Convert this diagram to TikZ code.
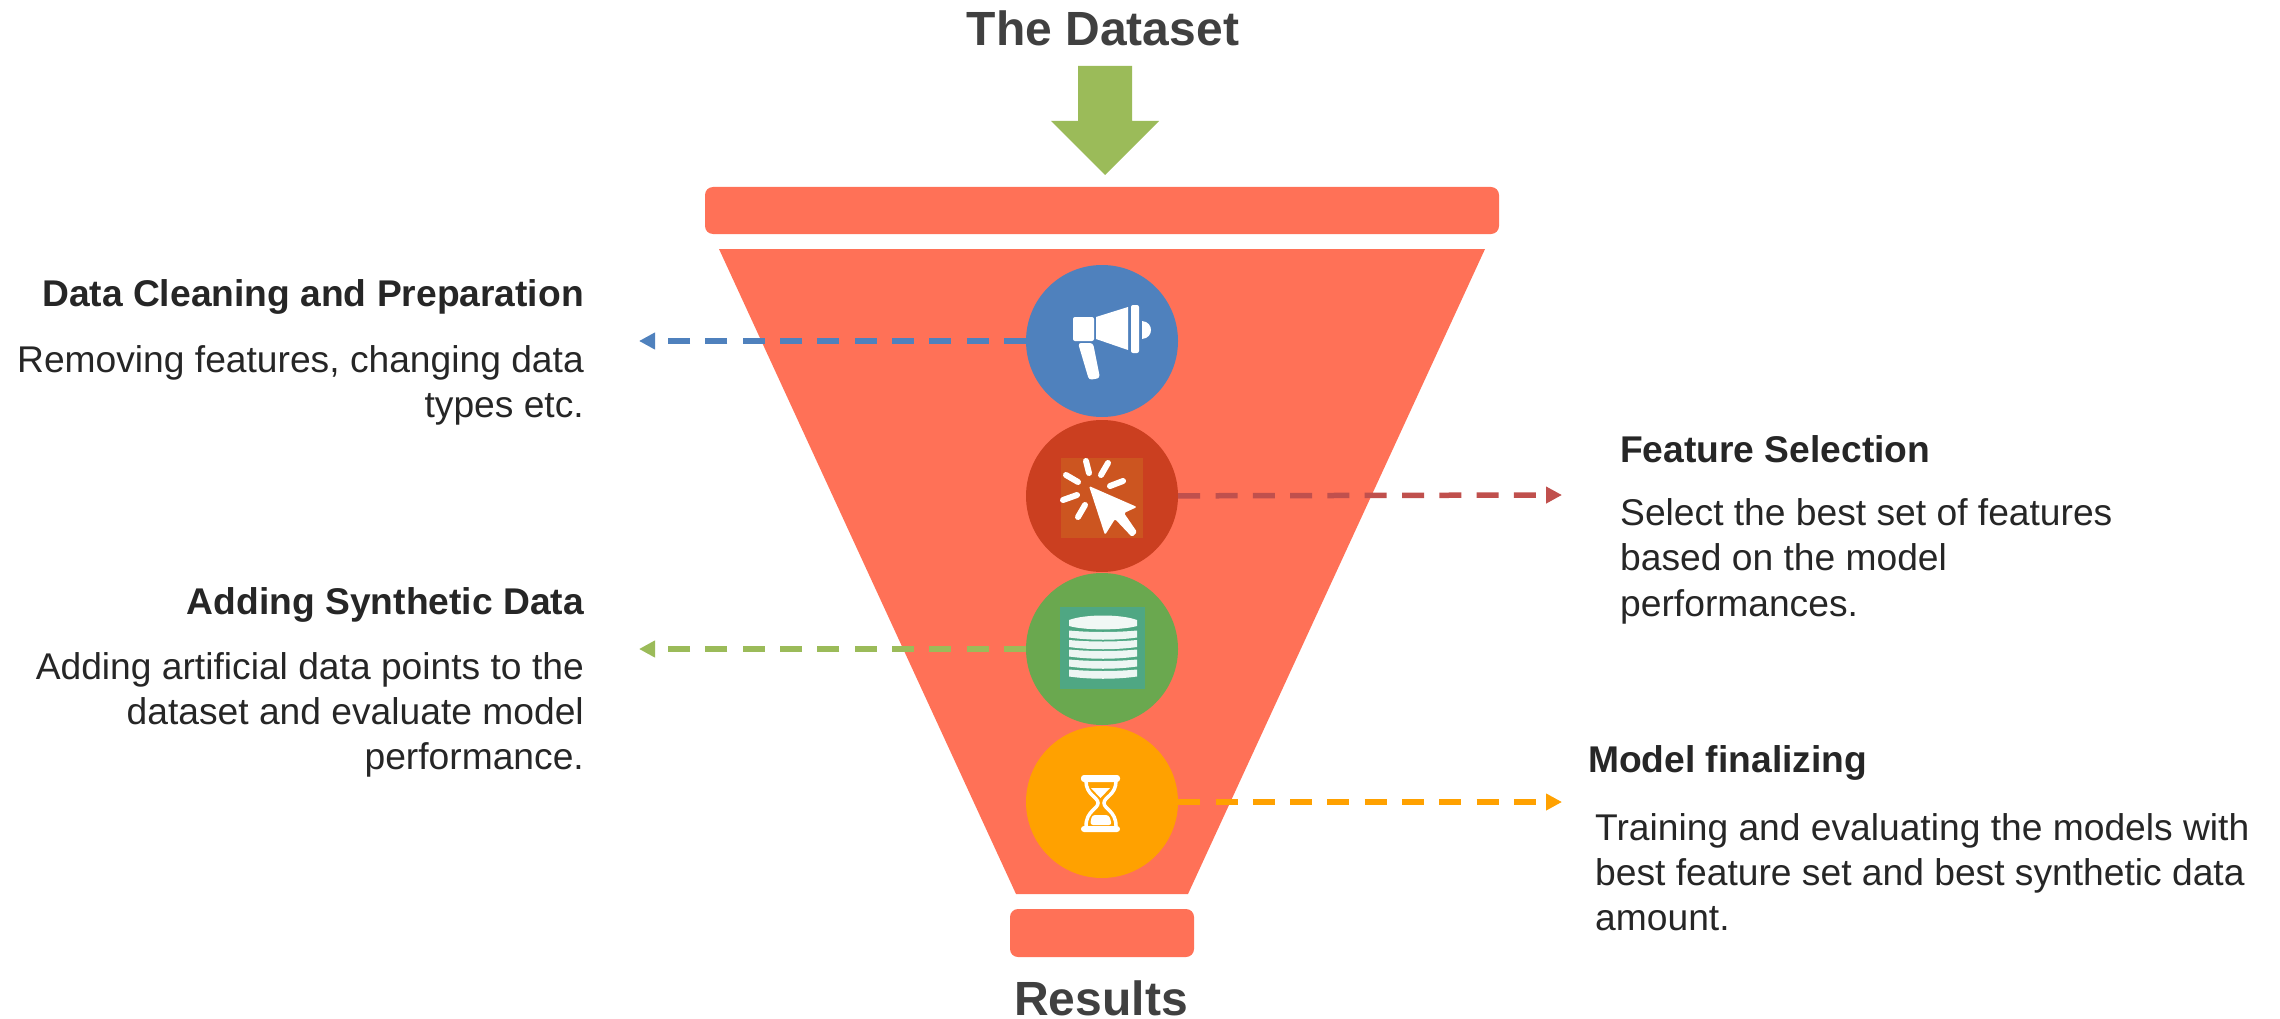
\documentclass[tikz,border=0pt]{standalone}
\usepackage{fontspec}
\setmainfont{Liberation Sans}
\usetikzlibrary{arrows.meta}
\definecolor{funnel}{HTML}{FF7157}
\definecolor{cblue}{HTML}{4F81BD}
\definecolor{cred}{HTML}{CB3F20}
\definecolor{cgreen}{HTML}{6AA84F}
\definecolor{corange}{HTML}{FFA100}
\definecolor{lred}{HTML}{C0504D}
\definecolor{lgreen}{HTML}{9BBB59}
\definecolor{squarer}{HTML}{CC5520}
\definecolor{squareg}{HTML}{4FA783}
\definecolor{titlec}{HTML}{404040}
\definecolor{bodyc}{HTML}{262626}
\tikzset{
 x=1pt,y=-1pt,
 bar/.style={fill=funnel,rounded corners=8pt,draw=none,inner sep=0pt},
 stepcirc/.style={circle,minimum size=152pt,inner sep=0pt,draw=none},
 title/.style={font=\fontsize{48}{52}\selectfont\bfseries,text=titlec,inner sep=0pt,anchor=base},
 head/.style={font=\fontsize{37.2}{42}\selectfont\bfseries,text=bodyc,inner sep=0pt},
 body/.style={font=\fontsize{37.2}{45.3}\selectfont,text=bodyc,inner sep=0pt},
 conn/.style={line width=5.5pt,dash pattern=on 22pt off 15.3pt,-{Triangle[length=16pt,width=16pt]}},
 icon/.style={fill=white,draw=none},
}
\begin{document}
\begin{tikzpicture}
\useasboundingbox (0,0) rectangle (2280,1019);
\fill[funnel] (719,249) -- (1485,249) -- (1188,894) -- (1016,894) -- cycle;
\node[bar,minimum width=794pt,minimum height=47pt] (topbar) at (1102,210.5) {};
\node[bar,minimum width=184pt,minimum height=48pt] (botbar) at (1102,933) {};
\fill[lgreen] (1078,66) -- (1132,66) -- (1132,121) -- (1159,121) -- (1105,175) -- (1051,121) -- (1078,121) -- cycle;
\node[title] (tds) at (1103,46) {The Dataset};
\node[title] (tres) at (1101,1015) {Results};
\coordinate (e1) at (639,341);
\coordinate (e2) at (1562,495);
\coordinate (e3) at (639,649);
\coordinate (e4) at (1562,802);
\node[stepcirc,fill=cblue] (c1) at (1102,341) {};
\node[stepcirc,fill=cred] (c2) at (1102,496) {};
\node[stepcirc,fill=cgreen] (c3) at (1102,649) {};
\node[stepcirc,fill=corange] (c4) at (1102,802) {};
\draw[conn,cblue] (c1) -- (e1);
\draw[conn,lred] (c2) -- (e2);
\draw[conn,lgreen] (c3) -- (e3);
\draw[conn,corange] (c4) -- (e4);
% megaphone
\fill[icon,rounded corners=2pt] (1073,317) -- (1094,317) -- (1094,341) -- (1073,341) -- cycle;
\fill[icon] (1096,317) -- (1128,307) -- (1128,350) -- (1096,339) -- cycle;
\fill[icon,rounded corners=2pt] (1131,305) -- (1139,305) -- (1139,353) -- (1131,353) -- cycle;
\fill[icon] (1142,321) .. controls (1154,322) and (1154,338) .. (1142,339) -- cycle;
\fill[icon,rounded corners=3pt] (1078,343) -- (1093,343) -- (1100,378) -- (1089,380) -- cycle;
% cursor
\fill[squarer] (1061,458) rectangle (1143,538);
\fill[white,rounded corners=1.5pt] (1089,486) -- (1137,507) -- (1124,513) -- (1137,532) -- (1132,537) -- (1115,519) -- (1105,535) -- cycle;
\foreach \a/\b/\c/\d in {1086/461/1089/473, 1108/463/1101/475, 1066/475/1078/482, 1123/481/1110/486, 1063/500/1077/495, 1085/505/1078/517}{
  \draw[white,line width=6pt,line cap=round] (\a,\b) -- (\c,\d);
}
% database
\fill[squareg] (1060,607) rectangle (1145,689);
\foreach \y in {635,644.5,654,664,674}{
  \fill[white!90!squareg] (1069,\y-4.5) .. controls (1090,\y-2.5) and (1116,\y-2.5) .. (1137,\y-4.5) -- (1137,\y+2.5) .. controls (1116,\y+5.5) and (1090,\y+5.5) .. (1069,\y+2.5) -- cycle;
}
\fill[white!92!squareg] (1069,620) .. controls (1085,614) and (1121,614) .. (1137,620) -- (1137,626) .. controls (1121,630.5) and (1085,630.5) .. (1069,626) -- cycle;
% hourglass
\fill[icon,rounded corners=3pt] (1081,775) rectangle (1120,782);
\fill[icon,rounded corners=3pt] (1081,826) rectangle (1120,832);
\draw[white,line width=3.5pt] (1086,781) .. controls (1086,795) and (1098,797) .. (1098,803) .. controls (1098,809) and (1086,811) .. (1086,826);
\draw[white,line width=3.5pt] (1116,781) .. controls (1116,795) and (1104,797) .. (1104,803) .. controls (1104,809) and (1116,811) .. (1116,826);
\fill[icon] (1091,788) -- (1110,788) -- (1100.5,798) -- cycle;
\fill[icon,rounded corners=3pt] (1090,825) -- (1092,815) -- (1109,815) -- (1112,825) -- cycle;
% left text
\node[head,anchor=base east] (h1) at (584,306.5) {Data Cleaning and Preparation};
\node[body,anchor=north east,align=right] (b1) at (584,345.5) {Removing features, changing data\\types etc.};
\node[head,anchor=base east] (h3) at (584,614.5) {Adding Synthetic Data};
\node[body,anchor=north east,align=right] (b3) at (584,652) {Adding artificial data points to the\\dataset and evaluate model\\performance.};
% right text
\node[head,anchor=base west] (h2) at (1620,462.5) {Feature Selection};
\node[body,anchor=north west,align=left] (b2) at (1620,498.5) {Select the best set of features\\based on the model\\performances.};
\node[head,anchor=base west] (h4) at (1588,772.5) {Model finalizing};
\node[body,anchor=north west,align=left] (b4) at (1595,813) {Training and evaluating the models with\\best feature set and best synthetic data\\amount.};
\end{tikzpicture}
\end{document}
